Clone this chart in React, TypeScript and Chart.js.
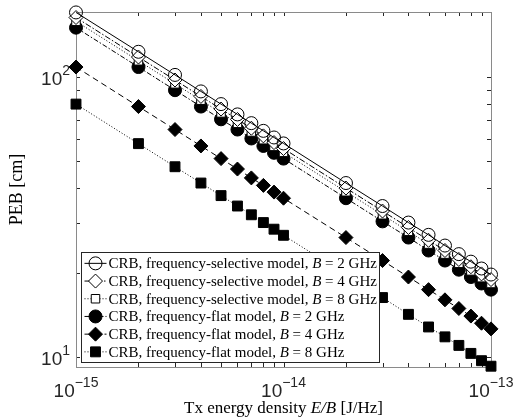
import { useEffect, useRef } from "react";
import { Chart, registerables } from "chart.js";

Chart.register(...registerables);

// ---------------- data ----------------
const energyDensity = [
  1e-15, 2e-15, 3e-15, 4e-15, 5e-15, 6e-15, 7e-15, 8e-15, 9e-15, 1e-14,
  2e-14, 3e-14, 4e-14, 5e-14, 6e-14, 7e-14, 8e-14, 9e-14, 1e-13,
];

const crbSelB2 = [170, 123, 101.7, 88.8, 80, 73.5, 68.4, 64.2, 60.8, 57.9, 41.8, 34.6, 30.2, 27.3, 25, 23.3, 21.9, 20.7, 19.7];
const crbSelB4 = [163, 117.8, 97.5, 85.2, 76.8, 70.5, 65.6, 61.6, 58.3, 55.5, 40.1, 33.2, 29, 26.1, 24, 22.3, 21, 19.8, 18.9];
const crbSelB8 = [158, 114.2, 94.5, 82.6, 74.4, 68.3, 63.6, 59.7, 56.5, 53.8, 38.9, 32.2, 28.1, 25.3, 23.3, 21.6, 20.3, 19.2, 18.3];
const crbFlatB2 = [150, 108.5, 89.7, 78.4, 70.6, 64.9, 60.3, 56.7, 53.6, 51.1, 36.9, 30.5, 26.7, 24, 22.1, 20.5, 19.3, 18.3, 17.4];
const crbFlatB4 = [108.5, 78.4, 64.9, 56.7, 51.1, 46.9, 43.6, 41, 38.8, 36.9, 26.7, 22.1, 19.3, 17.4, 16, 14.9, 14, 13.2, 12.6];
const crbFlatB8 = [80, 57.8, 47.8, 41.8, 37.7, 34.6, 32.2, 30.2, 28.6, 27.2, 19.7, 16.3, 14.2, 12.8, 11.8, 11, 10.3, 9.7, 9.27];

const seriesLabels = [
  "CRB, frequency-selective model, B = 2 GHz",
  "CRB, frequency-selective model, B = 4 GHz",
  "CRB, frequency-selective model, B = 8 GHz",
  "CRB, frequency-flat model, B = 2 GHz",
  "CRB, frequency-flat model, B = 4 GHz",
  "CRB, frequency-flat model, B = 8 GHz",
];

const xTicks = [
  1e-15, 2e-15, 3e-15, 4e-15, 5e-15, 6e-15, 7e-15, 8e-15, 9e-15, 1e-14,
  2e-14, 3e-14, 4e-14, 5e-14, 6e-14, 7e-14, 8e-14, 9e-14, 1e-13,
];
const yTicks = [10, 20, 30, 40, 50, 60, 70, 80, 90, 100];
const xRange = [1e-15, 1e-13];
const yRange = [9.21, 170.6];

const xTitle: [string, boolean][] = [["Tx energy density ", false], ["E/B", true], [" [J/Hz]", false]];
const yTitle = "PEB [cm]";

// ---------------- helpers ----------------
function powParts(v: number): [string, string] | null {
  const e = Math.log10(v);
  const r = Math.round(e);
  if (Math.abs(e - r) > 1e-6) return null;
  return ["10", String(r)];
}

const SERIF = '"Liberation Serif", "DejaVu Serif", serif';
const SANS = '"Liberation Sans", Arial, sans-serif';
const AXIS_COLOR = "#262626";
const BOX_COLOR = "#8a8a8a";
const BASE_SIZE = 19;
const EXP_SIZE = 14;

function drawSegments(
  ctx: CanvasRenderingContext2D,
  segs: [string, boolean][],
  x: number,
  y: number,
  size: number,
  align: "left" | "center"
) {
  const fonts = segs.map(([, it]) => `${it ? "italic " : ""}${size}px ${SERIF}`);
  let total = 0;
  const widths = segs.map(([t], i) => {
    ctx.font = fonts[i];
    const w = ctx.measureText(t).width;
    total += w;
    return w;
  });
  let cx = align === "center" ? x - total / 2 : x;
  ctx.textAlign = "left";
  segs.forEach(([t], i) => {
    ctx.font = fonts[i];
    ctx.fillText(t, cx, y);
    cx += widths[i];
  });
  return total;
}

function labelSegs(label: string): [string, boolean][] {
  const idx = label.lastIndexOf("B =");
  return [
    [label.slice(0, idx), false],
    ["B", true],
    [label.slice(idx + 1), false],
  ];
}

function drawPowLabel(ctx: CanvasRenderingContext2D, v: number, x: number, baseY: number, align: "center" | "right") {
  const p = powParts(v);
  if (!p) return;
  const exp = p[1].replace("-", "\u2212");
  ctx.font = `${BASE_SIZE}px ${SANS}`;
  const wb = ctx.measureText(p[0]).width;
  ctx.font = `${EXP_SIZE}px ${SANS}`;
  const we = ctx.measureText(exp).width;
  const total = wb + we;
  const left = align === "center" ? x - total / 2 : x - total;
  ctx.textAlign = "left";
  ctx.textBaseline = "alphabetic";
  ctx.font = `${BASE_SIZE}px ${SANS}`;
  ctx.fillText(p[0], left, baseY);
  ctx.font = `${EXP_SIZE}px ${SANS}`;
  ctx.fillText(exp, left + wb, baseY - 10);
}

function drawMarker(ctx: CanvasRenderingContext2D, style: string, x: number, y: number, r: number, fill: string) {
  ctx.beginPath();
  if (style === "circle") {
    ctx.arc(x, y, r, 0, Math.PI * 2);
  } else if (style === "rectRot") {
    ctx.moveTo(x - r, y);
    ctx.lineTo(x, y - r);
    ctx.lineTo(x + r, y);
    ctx.lineTo(x, y + r);
    ctx.closePath();
  } else {
    const s = Math.SQRT1_2 * r;
    ctx.rect(x - s, y - s, 2 * s, 2 * s);
  }
  ctx.fillStyle = fill;
  ctx.fill();
  ctx.setLineDash([]);
  ctx.stroke();
}

const framePlugin = {
  id: "frame",
  beforeDatasetsDraw(chart: any) {
    const { ctx, chartArea: a, scales } = chart;
    ctx.save();
    ctx.strokeStyle = AXIS_COLOR;
    ctx.lineWidth = 1;
    const L = 4;
    ctx.beginPath();
    for (const v of xTicks) {
      const x = Math.round(scales.x.getPixelForValue(v)) + 0.5;
      ctx.moveTo(x, a.bottom);
      ctx.lineTo(x, a.bottom - L);
      ctx.moveTo(x, a.top);
      ctx.lineTo(x, a.top + L);
    }
    for (const v of yTicks) {
      const y = Math.round(scales.y.getPixelForValue(v)) + 0.5;
      ctx.moveTo(a.left, y);
      ctx.lineTo(a.left + L, y);
      ctx.moveTo(a.right, y);
      ctx.lineTo(a.right - L, y);
    }
    ctx.stroke();
    ctx.strokeStyle = BOX_COLOR;
    ctx.strokeRect(Math.round(a.left) + 0.5, Math.round(a.top) + 0.5, Math.round(a.right - a.left), Math.round(a.bottom - a.top));

    // tick labels
    ctx.fillStyle = AXIS_COLOR;
    for (const v of xTicks) {
      drawPowLabel(ctx, v, scales.x.getPixelForValue(v), a.bottom + 30, "center");
    }
    for (const v of yTicks) {
      drawPowLabel(ctx, v, a.left - 6, scales.y.getPixelForValue(v) + 8, "right");
    }
    ctx.restore();
  },
  afterDraw(chart: any) {
    const { ctx, chartArea: a } = chart;
    ctx.save();
    // axis titles
    ctx.fillStyle = "#000";
    ctx.textBaseline = "middle";
    drawSegments(ctx, xTitle, (a.left + a.right) / 2, 409, 17, "center");
    ctx.save();
    ctx.translate(17, (a.top + a.bottom) / 2);
    ctx.rotate(-Math.PI / 2);
    drawSegments(ctx, [[yTitle, false]], 0, 0, 18, "center");
    ctx.restore();

    // legend
    const fontSize = 15;
    const rowH = 17.7;
    const n = chart.data.datasets.length;
    let maxW = 0;
    chart.data.datasets.forEach((ds: any) => {
      const segs = labelSegs(ds.label);
      let w = 0;
      segs.forEach(([t, it]) => {
        ctx.font = `${it ? "italic " : ""}${fontSize}px ${SERIF}`;
        w += ctx.measureText(t).width;
      });
      maxW = Math.max(maxW, w);
    });
    const boxL = Math.round(a.left) + 5.5;
    const boxH = Math.round(n * rowH + 4);
    const boxB = Math.round(a.bottom) - 4.5;
    const boxT = boxB - boxH;
    const textX = boxL + 27;
    const boxW = Math.round(27 + maxW + 3);
    ctx.fillStyle = "#fff";
    ctx.fillRect(boxL, boxT, boxW, boxH);
    ctx.strokeStyle = "#262626";
    ctx.lineWidth = 1;
    ctx.setLineDash([]);
    ctx.strokeRect(boxL, boxT, boxW, boxH);
    chart.data.datasets.forEach((ds: any, i: number) => {
      const cy = boxT + 2 + rowH * i + rowH / 2;
      ctx.strokeStyle = "#000";
      ctx.lineWidth = 1;
      ctx.setLineDash(ds.borderDash || []);
      ctx.beginPath();
      ctx.moveTo(boxL + 3, cy);
      ctx.lineTo(boxL + 25, cy);
      ctx.stroke();
      drawMarker(ctx, ds.pointStyle, boxL + 14, cy, ds.pointRadius, ds.pointBackgroundColor);
      ctx.fillStyle = "#000";
      ctx.textBaseline = "middle";
      drawSegments(ctx, labelSegs(ds.label), textX, cy + 1, fontSize, "left");
    });
    ctx.restore();
  },
};

function makeDataset(label: string, values: number[], style: string, r: number, fill: string, dash: number[]) {
  return {
    label,
    data: energyDensity.map((x, i) => ({ x, y: values[i] })),
    borderColor: "#000",
    borderWidth: 1,
    borderDash: dash,
    pointStyle: style,
    pointRadius: r,
    pointBorderColor: "#000",
    pointBorderWidth: 1,
    pointBackgroundColor: fill,
    backgroundColor: fill,
    fill: false,
    tension: 0,
    clip: false as any,
  };
}

export default function App() {
  const ref = useRef<HTMLCanvasElement | null>(null);
  useEffect(() => {
    document.body.style.margin = "0";
    const canvas = ref.current!;
    const chart = new Chart(canvas, {
      type: "line",
      data: {
        datasets: [
          makeDataset(seriesLabels[0], crbSelB2, "circle", 6.5, "rgba(255,255,255,0)", []),
          makeDataset(seriesLabels[1], crbSelB4, "rectRot", 7, "#fff", [6, 2, 1.5, 2]),
          makeDataset(seriesLabels[2], crbSelB8, "rect", 6, "#fff", [1, 2]),
          makeDataset(seriesLabels[3], crbFlatB2, "circle", 6.5, "#000", [5, 2, 1.5, 2]),
          makeDataset(seriesLabels[4], crbFlatB4, "rectRot", 7, "#000", [6, 4]),
          makeDataset(seriesLabels[5], crbFlatB8, "rect", 7, "#000", [1, 2]),
        ] as any,
      },
      options: {
        responsive: false,
        animation: false,
        devicePixelRatio: 1,
        layout: { padding: { left: 0, right: 23, top: 12, bottom: 0 } },
        plugins: {
          legend: { display: false },
          tooltip: { enabled: false },
          title: { display: false },
        },
        scales: {
          x: {
            type: "logarithmic",
            min: xRange[0],
            max: xRange[1],
            grid: { display: false, drawTicks: false },
            border: { display: false },
            afterBuildTicks: (s: any) => {
              s.ticks = xTicks.map((v) => ({ value: v }));
            },
            afterFit: (s: any) => {
              s.height = 53;
            },
            ticks: { display: false },
          },
          y: {
            type: "logarithmic",
            min: yRange[0],
            max: yRange[1],
            grid: { display: false, drawTicks: false },
            border: { display: false },
            afterBuildTicks: (s: any) => {
              s.ticks = yTicks.map((v) => ({ value: v }));
            },
            afterFit: (s: any) => {
              s.width = 76;
            },
            ticks: { display: false },
          },
        },
      } as any,
      plugins: [framePlugin],
    });
    return () => chart.destroy();
  }, []);
  return <canvas ref={ref} width={514} height={420} style={{ display: "block" }} />;
}
